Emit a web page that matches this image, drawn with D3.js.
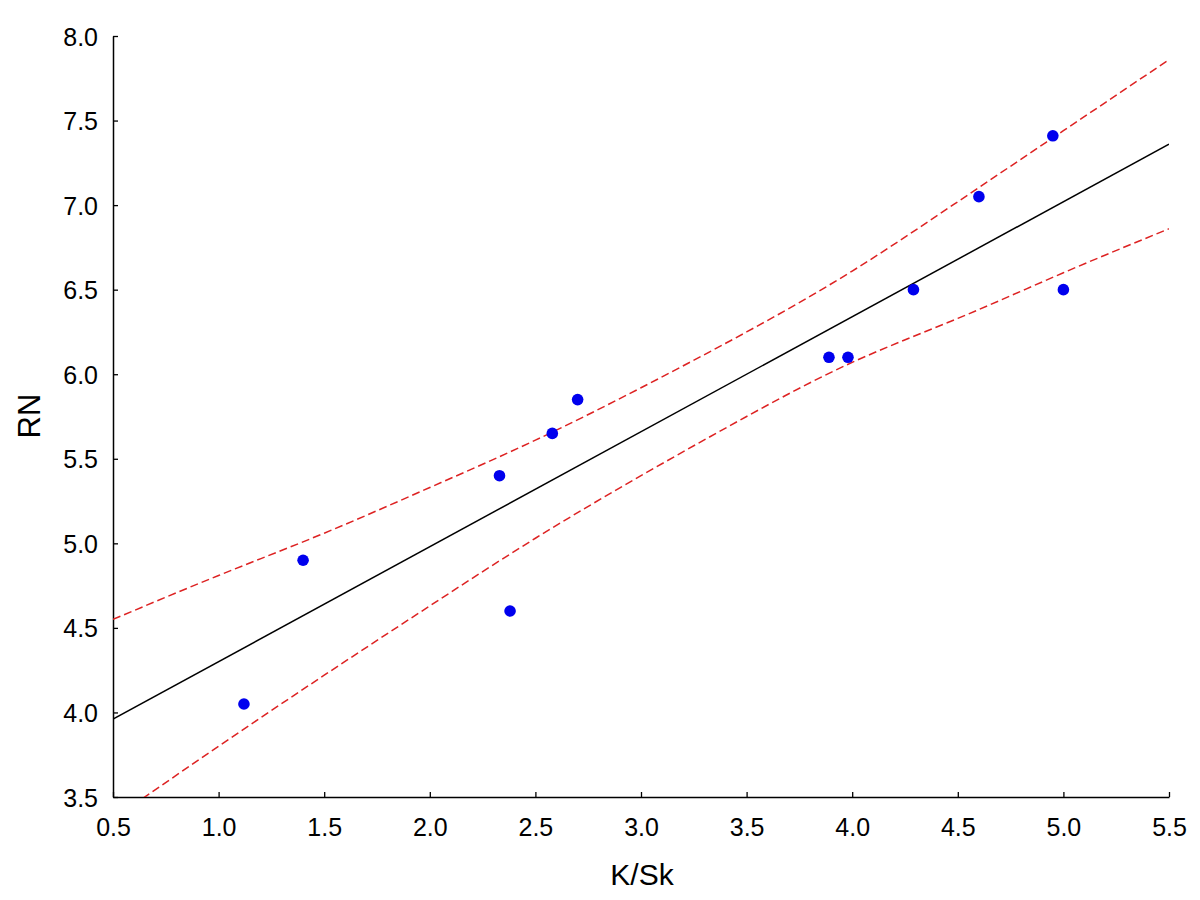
<!DOCTYPE html>
<html>
<head>
<meta charset="utf-8">
<script src="https://cdn.jsdelivr.net/npm/d3@7"></script>
<style>
  html, body { margin: 0; padding: 0; background: #fff; }
  svg text { font-family: "Liberation Sans", Arial, sans-serif; fill: #000; }
</style>
</head>
<body>
<svg id="chart" width="1200" height="900"></svg>
<script>
// Observed data points (K/Sk vs RN)
const xValues = [1.12, 1.40, 2.33, 2.38, 2.58, 2.70, 3.89, 3.98, 4.29, 4.60, 4.95, 5.00];
const yValues = [4.05, 4.90, 5.40, 4.60, 5.65, 5.85, 6.10, 6.10, 6.50, 7.05, 7.41, 6.50];

// Fitted regression line endpoints
const fitX = [0.5, 5.5];
const fitY = [3.96, 7.36];

// Confidence band
const bandX     = [0.5,  1.0,  1.5,  2.0,  2.5,  3.0,  3.5,  4.0,  4.5,  5.0,  5.5];
const bandUpper = [4.55, 4.81, 5.06, 5.33, 5.61, 5.92, 6.25, 6.61, 7.02, 7.44, 7.86];
const bandLower = [3.37, 3.80, 4.22, 4.63, 5.03, 5.40, 5.75, 6.07, 6.33, 6.60, 6.86];

// Tick labels
const xTicks = [0.5, 1.0, 1.5, 2.0, 2.5, 3.0, 3.5, 4.0, 4.5, 5.0, 5.5];
const yTicks = [3.5, 4.0, 4.5, 5.0, 5.5, 6.0, 6.5, 7.0, 7.5, 8.0];

const svg = d3.select("#chart");
const mLeft = 113, mRight = 1169, mTop = 36, mBottom = 797;

const x = d3.scaleLinear().domain([0.5, 5.5]).range([mLeft, mRight]);
const y = d3.scaleLinear().domain([3.5, 8.0]).range([mBottom, mTop]);

svg.append("defs").append("clipPath").attr("id", "plotclip")
  .append("rect").attr("x", mLeft).attr("y", mTop)
  .attr("width", mRight - mLeft).attr("height", mBottom - mTop);

// Axes
const xAxis = d3.axisBottom(x).tickValues(xTicks).tickFormat(d3.format(".1f"))
  .tickSizeInner(-5).tickSizeOuter(0).tickPadding(21);
const yAxis = d3.axisLeft(y).tickValues(yTicks).tickFormat(d3.format(".1f"))
  .tickSizeInner(-5).tickSizeOuter(0).tickPadding(15);

const gx = svg.append("g").attr("transform", `translate(0,${mBottom})`).call(xAxis);
const gy = svg.append("g").attr("transform", `translate(${mLeft},0)`).call(yAxis);
[gx, gy].forEach(g => {
  g.selectAll("path.domain").attr("stroke", "#000").attr("stroke-width", 1.5);
  g.selectAll(".tick line").attr("stroke", "#000").attr("stroke-width", 1.3);
  g.selectAll(".tick text").attr("font-size", 25).attr("font-family", "'Liberation Sans', Arial, sans-serif");
});
gy.selectAll(".tick text").attr("dy", "0.36em");

// Axis titles
svg.append("text").attr("x", 642).attr("y", 885).attr("text-anchor", "middle")
  .attr("font-size", 30).text("K/Sk");
svg.append("text").attr("transform", "translate(40,416) rotate(-90)")
  .attr("text-anchor", "middle").attr("font-size", 31).text("RN");

const plot = svg.append("g").attr("clip-path", "url(#plotclip)");

// Confidence bands
const bandLine = d3.line().curve(d3.curveNatural);
const upperPts = bandX.map((d, i) => [x(d), y(bandUpper[i])]);
const lowerPts = bandX.map((d, i) => [x(d), y(bandLower[i])]);
[upperPts, lowerPts].forEach(pts => {
  plot.append("path").attr("d", bandLine(pts))
    .attr("fill", "none").attr("stroke", "#dd2222")
    .attr("stroke-width", 1.5).attr("stroke-dasharray", "8,4");
});

// Regression line
plot.append("path")
  .attr("d", d3.line()(fitX.map((d, i) => [x(d), y(fitY[i])])))
  .attr("fill", "none").attr("stroke", "#000").attr("stroke-width", 1.5);

// Points
svg.append("g").selectAll("circle")
  .data(xValues.map((d, i) => ({ x: d, y: yValues[i] })))
  .join("circle")
  .attr("cx", d => x(d.x)).attr("cy", d => y(d.y)).attr("r", 5.8)
  .attr("fill", "#0000ee");
</script>
</body>
</html>
